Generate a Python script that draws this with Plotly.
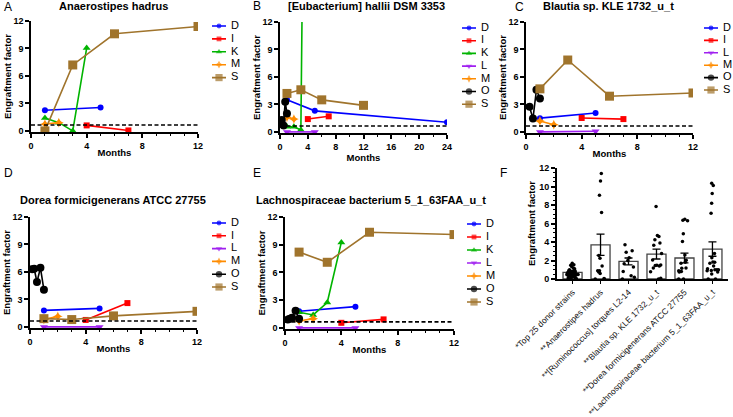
import plotly.graph_objects as go

W, H = 733, 417

# ------------------------------------------------------------------ data
# Panel A: Anaerostipes hadrus
A_D_X = [1, 5];          A_D_Y = [2.25, 2.55]
A_I_X = [4, 7];          A_I_Y = [0.6, 0.05]
A_K_X = [1, 2, 3, 4];    A_K_Y = [1.4, 0.9, 0.0, 9.05]
A_M_X = [1, 2];          A_M_Y = [0.75, 0.9]
A_S_X = [1, 3, 6, 12];   A_S_Y = [0.0, 7.2, 10.6, 11.4]

# Panel B: [Eubacterium] hallii DSM 3353
B_D_X = [1, 5, 24];      B_D_Y = [3.5, 2.3, 1.05]
B_I_X = [4, 7];          B_I_Y = [1.4, 1.7]
B_K_X = [1, 2, 3, 4];    B_K_Y = [0.55, 0.55, 0.2, 75.0]
B_L_X = [1, 5];          B_L_Y = [0.0, 0.0]
B_M_X = [1, 2];          B_M_Y = [1.6, 1.4]
B_O_X = [0.25, 0.5, 0.75, 1.0];  B_O_Y = [1.3, 0.7, 3.3, 2.0]
B_S_X = [1, 3, 6, 12];   B_S_Y = [4.2, 4.6, 3.5, 2.9]

# Panel C: Blautia sp. KLE 1732_u_t
C_D_X = [1, 5];          C_D_Y = [1.5, 2.06]
C_I_X = [4, 7];          C_I_Y = [1.52, 1.4]
C_L_X = [1, 5];          C_L_Y = [0.0, 0.07]
C_M_X = [1, 2];          C_M_Y = [1.2, 0.78]
C_O_X = [0.25, 0.5, 0.75, 1.0];  C_O_Y = [2.75, 1.45, 4.6, 3.65]
C_S_X = [1, 3, 6, 12];   C_S_Y = [4.7, 7.85, 3.9, 4.25]

# Panel D: Dorea formicigenerans ATCC 27755
D_D_X = [1, 5];          D_D_Y = [1.8, 2.02]
D_I_X = [4, 7];          D_I_Y = [0.76, 2.6]
D_L_X = [1, 5];          D_L_Y = [0.0, 0.0]
D_M_X = [1, 2];          D_M_Y = [0.8, 1.15]
D_O_X = [0.15, 0.3, 0.5, 0.75, 1.0];  D_O_Y = [6.3, 6.35, 4.9, 6.45, 4.05]
D_S_X = [1, 3, 6, 12];   D_S_Y = [0.9, 0.8, 1.2, 1.7]

# Panel E: Lachnospiraceae bacterium 5_1_63FAA_u_t
E_D_X = [1, 5];          E_D_Y = [1.8, 2.3]
E_I_X = [4, 7];          E_I_Y = [0.55, 0.92]
E_K_X = [1, 2, 3, 4];    E_K_Y = [1.7, 1.4, 2.75, 9.25]
E_L_X = [1, 5];          E_L_Y = [0.0, 0.0]
E_M_X = [1, 2];          E_M_Y = [0.75, 1.0]
E_O_X = [0.2, 0.35, 0.5, 0.75, 1.0];  E_O_Y = [0.9, 1.0, 1.1, 1.85, 1.0]
E_S_X = [1, 3, 6, 12];   E_S_Y = [8.2, 7.1, 10.35, 10.1]

THRESHOLD = 0.65

# Panel F
F_CATS = ["*Top 25 donor strains", "**Anaerostipes hadrus",
          "**[Ruminococcus] torques L2-14", "**Blautia sp. KLE 1732_u_t",
          "**Dorea formicigenerans ATCC 27755",
          "**Lachnospiraceae bacterium 5_1_63FAA_u_t"]
F_MEANS = [0.72, 3.7, 1.9, 2.7, 2.27, 3.24]
F_SEM = [0.1, 1.15, 0.37, 0.54, 0.53, 0.78]
F_TOP25_PTS = [1.7, 1.55, 1.5, 1.35, 1.2, 1.1, 1.0, 0.95, 0.9, 0.9, 0.85, 0.8,
               0.8, 0.75, 0.7, 0.7, 0.65, 0.65, 0.6, 0.6, 0.55, 0.55, 0.5, 0.5,
               0.45, 0.45, 0.4, 0.4, 0.35, 0.3, 0.3, 0.25, 0.2, 0.15, 0.1,
               0.05, 0.0, 0.0]
F_RUMINO_PTS = [3.7, 3.05, 2.9, 2.3, 2.0, 1.65, 1.3, 0.8, 0.35, 0.2, 0.0]

PANEL_TITLES = ["Anaerostipes hadrus", "[Eubacterium] hallii DSM 3353",
                "Blautia sp. KLE 1732_u_t", "Dorea formicigenerans ATCC 27755",
                "Lachnospiraceae bacterium 5_1_63FAA_u_t"]
PANEL_LETTERS = ["A", "B", "C", "D", "E", "F"]

# ------------------------------------------------------------------ style
STYLE = {
    "D": dict(color="#0000FF", symbol="circle", size=6),
    "I": dict(color="#FF0000", symbol="square", size=6),
    "K": dict(color="#00B400", symbol="triangle-up", size=7),
    "L": dict(color="#A020F0", symbol="triangle-down", size=7),
    "M": dict(color="#FF8C00", symbol="star-diamond", size=7),
    "O": dict(color="#000000", symbol="circle", size=8),
    "S": dict(color="#A0742C", symbol="square", size=9),
}
FONT = "Liberation Sans, Arial, sans-serif"

panels = [
    dict(series=[("D", A_D_X, A_D_Y), ("I", A_I_X, A_I_Y), ("K", A_K_X, A_K_Y),
                 ("M", A_M_X, A_M_Y), ("S", A_S_X, A_S_Y)],
         px=(31, 198, 21, 132), xmax=12, dtick=4, minor=1,
         leg=(212, 26, 12.9), title=(114, 6), letter=(2, 7)),
    dict(series=[("D", B_D_X, B_D_Y), ("I", B_I_X, B_I_Y), ("K", B_K_X, B_K_Y),
                 ("L", B_L_X, B_L_Y), ("M", B_M_X, B_M_Y), ("O", B_O_X, B_O_Y),
                 ("S", B_S_X, B_S_Y)],
         px=(280, 447, 22, 133), xmax=24, dtick=4, minor=2,
         leg=(462, 28, 12.7), title=(366, 6), letter=(251, 6)),
    dict(series=[("D", C_D_X, C_D_Y), ("I", C_I_X, C_I_Y), ("L", C_L_X, C_L_Y),
                 ("M", C_M_X, C_M_Y), ("O", C_O_X, C_O_Y), ("S", C_S_X, C_S_Y)],
         px=(526, 693, 22, 133), xmax=12, dtick=4, minor=1,
         leg=(704, 28, 12.4), title=(608, 6), letter=(513, 7)),
    dict(series=[("D", D_D_X, D_D_Y), ("I", D_I_X, D_I_Y), ("L", D_L_X, D_L_Y),
                 ("M", D_M_X, D_M_Y), ("O", D_O_X, D_O_Y), ("S", D_S_X, D_S_Y)],
         px=(30, 197, 217, 328), xmax=12, dtick=4, minor=1,
         leg=(212, 223, 12.8), title=(113, 200), letter=(2, 173)),
    dict(series=[("D", E_D_X, E_D_Y), ("I", E_I_X, E_I_Y), ("K", E_K_X, E_K_Y),
                 ("L", E_L_X, E_L_Y), ("M", E_M_X, E_M_Y), ("O", E_O_X, E_O_Y),
                 ("S", E_S_X, E_S_Y)],
         px=(285, 454, 217, 329), xmax=12, dtick=4, minor=1,
         leg=(467, 224, 13.0), title=(371, 200), letter=(251, 173)),
]

LEG_LINE = 14   # legend sample line length, px
LEG_TEXT = 19   # legend text start offset, px
LEG_W = 40      # legend axis width, px
LEG_MK = 0.8    # legend marker scale


def fx(p):
    return p / W


def fy(p):
    return 1 - p / H


def ax_id(n):
    return "" if n == 1 else str(n)


fig = go.Figure()
layout = dict(width=W, height=H, margin=dict(l=0, r=0, t=0, b=0),
              paper_bgcolor="white", plot_bgcolor="white", showlegend=False,
              font=dict(family=FONT, color="black"))
annotations = []
shapes = []

tickfont = dict(family=FONT, size=9, color="black", weight="bold")
titlefont = dict(family=FONT, size=9.5, color="black", weight="bold")

for i, p in enumerate(panels):
    n = i + 1
    a = ax_id(n)
    x0, x1, yt, yb = p["px"]
    xa = dict(domain=[fx(x0), fx(x1)], anchor=f"y{a}", range=[0, p["xmax"]],
              tick0=0, dtick=p["dtick"], showline=True, linecolor="black",
              linewidth=1.5, ticks="outside", ticklen=4, tickwidth=1.5,
              tickcolor="black", showgrid=False, zeroline=False,
              tickfont=tickfont, automargin=False, layer="below traces",
              minor=dict(dtick=p["minor"], ticks="outside", ticklen=2,
                         tickwidth=1, tickcolor="black"),
              title=dict(text="Months", font=titlefont, standoff=0))
    ya = dict(domain=[fy(yb), fy(yt)], anchor=f"x{a}", range=[-0.12, 12],
              tick0=0, dtick=3, showline=True, linecolor="black",
              linewidth=1.5, ticks="outside", ticklen=4, tickwidth=1.5,
              tickcolor="black", showgrid=False, zeroline=False,
              tickfont=tickfont, automargin=False, layer="below traces",
              title=dict(text="Engraftment factor", font=titlefont, standoff=0))
    layout[f"xaxis{a}"] = xa
    layout[f"yaxis{a}"] = ya

    for code, xs, ys in p["series"]:
        st = STYLE[code]
        fig.add_trace(go.Scatter(
            x=xs, y=ys, mode="lines+markers", name=code,
            line=dict(color=st["color"], width=1.6),
            marker=dict(color=st["color"], symbol=st["symbol"], size=st["size"],
                        line=dict(width=0)),
            cliponaxis=not (max(ys) > 12),
            xaxis=f"x{a}", yaxis=f"y{a}", hoverinfo="x+y+name"))

    shapes.append(dict(type="line", xref=f"x{a} domain", yref=f"y{a}",
                       x0=0, x1=1, y0=THRESHOLD, y1=THRESHOLD,
                       line=dict(color="black", width=1.6, dash="4px,2.5px")))

    # legend on its own hidden axes (axis units = pixels)
    ln = n + 6
    lx, ly, sp = p["leg"]
    lw = min(LEG_W, W - lx)
    ns = len(p["series"])
    layout[f"xaxis{ln}"] = dict(domain=[fx(lx), fx(lx + lw)],
                                range=[0, lw], visible=False,
                                anchor=f"y{ln}", fixedrange=True)
    layout[f"yaxis{ln}"] = dict(domain=[fy(ly - sp / 2 + ns * sp), fy(ly - sp / 2)],
                                range=[-(ns - 0.5), 0.5], visible=False,
                                anchor=f"x{ln}", fixedrange=True)
    for k, (code, xs, ys) in enumerate(p["series"]):
        st = STYLE[code]
        fig.add_trace(go.Scatter(
            x=[0, LEG_LINE / 2, LEG_LINE], y=[-k, -k, -k], mode="lines+markers",
            line=dict(color=st["color"], width=1.6),
            marker=dict(color=st["color"], symbol=st["symbol"],
                        size=[0, st["size"] * LEG_MK, 0], line=dict(width=0)),
            cliponaxis=False, hoverinfo="skip",
            xaxis=f"x{ln}", yaxis=f"y{ln}"))
    fig.add_trace(go.Scatter(
        x=[LEG_TEXT] * ns, y=[-k for k in range(ns)],
        text=[c for c, _, _ in p["series"]], mode="text",
        textposition="middle right", cliponaxis=False, hoverinfo="skip",
        textfont=dict(family=FONT, size=11, color="black"),
        xaxis=f"x{ln}", yaxis=f"y{ln}"))

    if i < len(PANEL_TITLES):
        tx, ty = p["title"]
        annotations.append(dict(text=PANEL_TITLES[i], x=fx(tx), y=fy(ty),
                                xref="paper", yref="paper", xanchor="center",
                                yanchor="middle", showarrow=False,
                                font=dict(family=FONT, size=11, color="black",
                                          weight="bold")))
    lxp, lyp = p["letter"]
    annotations.append(dict(text=PANEL_LETTERS[i], x=fx(lxp), y=fy(lyp),
                            xref="paper", yref="paper", xanchor="left",
                            yanchor="middle", showarrow=False,
                            font=dict(family=FONT, size=12, color="black")))

# ------------------------------------------------------------------ panel F
F_POINT_GROUPS = [
    F_TOP25_PTS,
    A_D_Y + A_I_Y + A_K_Y + A_M_Y + A_S_Y,
    F_RUMINO_PTS,
    C_D_Y + C_I_Y + C_L_Y + C_M_Y + C_O_Y + C_S_Y,
    D_D_Y + D_I_Y + D_L_Y + D_M_Y + D_O_Y + D_S_Y,
    E_D_Y + E_I_Y + E_K_Y + E_L_Y + E_M_Y + E_O_Y + E_S_Y,
]
box_x, box_y = [], []
for cat, pts in zip(F_CATS, F_POINT_GROUPS):
    box_x += [cat] * len(pts)
    box_y += pts

fig.add_trace(go.Bar(
    x=F_CATS, y=F_MEANS, width=0.68,
    marker=dict(color="white", line=dict(color="#444444", width=1.3)),
    error_y=dict(type="data", array=F_SEM, visible=True, color="black",
                 thickness=1.3, width=4),
    xaxis="x6", yaxis="y6", hoverinfo="x+y"))
fig.add_trace(go.Box(
    x=box_x, y=box_y, boxpoints="all", jitter=0.9, pointpos=0, width=0.5,
    fillcolor="rgba(0,0,0,0)", line=dict(width=0, color="rgba(0,0,0,0)"),
    marker=dict(color="black", size=3.5), xaxis="x6", yaxis="y6",
    hoverinfo="y"))

layout["xaxis6"] = dict(domain=[fx(557), fx(728)], anchor="y6", type="category",
                        categoryorder="array", categoryarray=F_CATS,
                        showline=True, linecolor="black", linewidth=2,
                        ticks="outside", ticklen=3, tickwidth=1.2,
                        tickcolor="black", tickangle=-45, showgrid=False,
                        tickfont=dict(family=FONT, size=8.5, color="#111111"),
                        automargin=False)
layout["yaxis6"] = dict(domain=[fy(279), fy(168)], anchor="x6", range=[0, 12],
                        tick0=0, dtick=2, showline=True, linecolor="black",
                        linewidth=2, ticks="outside", ticklen=4, tickwidth=1.5,
                        tickcolor="black", showgrid=False, zeroline=False,
                        tickfont=tickfont, automargin=False,
                        minor=dict(dtick=0.5, ticks="outside", ticklen=2,
                                   tickwidth=1, tickcolor="black"),
                        title=dict(text="Engraftment factor", font=titlefont,
                                   standoff=2))
annotations.append(dict(text="F", x=fx(498), y=fy(173), xref="paper",
                        yref="paper", xanchor="left", yanchor="middle",
                        showarrow=False,
                        font=dict(family=FONT, size=12, color="black")))

layout["annotations"] = annotations
layout["shapes"] = shapes
fig.update_layout(**layout)

fig.write_html("out.html",
               config={"displayModeBar": False},
               post_script="document.body.style.margin='0';"
                           "document.body.style.overflow='hidden';")
